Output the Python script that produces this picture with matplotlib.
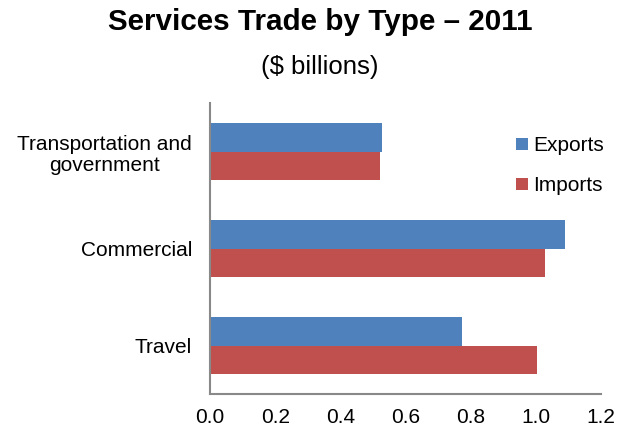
import matplotlib
matplotlib.use("Agg")
import matplotlib.pyplot as plt
import numpy as np

plt.rcParams['font.family'] = ['Liberation Sans', 'DejaVu Sans']

categories = ["Travel", "Commercial", "Transportation and\ngovernment"]
exports = [0.773, 1.090, 0.527]
imports = [1.003, 1.027, 0.520]
xticks = [0.0, 0.2, 0.4, 0.6, 0.8, 1.0, 1.2]

fig = plt.figure(figsize=(6.25, 4.33), dpi=100)
ax = fig.add_axes([0.336, 0.090, 0.626, 0.672])

y = np.arange(len(categories))
h = 0.29
ax.barh(y - h/2, imports, height=h, color="#C0504D", label="Imports")
ax.barh(y + h/2, exports, height=h, color="#4F81BD", label="Exports")

ax.set_xlim(0, 1.2)
ax.set_ylim(-0.5, 2.5)
ax.set_xticks(xticks)
ax.set_xticklabels([f"{v:.1f}" for v in xticks], fontsize=15)
ax.set_yticks(y)
ax.set_yticklabels(categories, fontsize=15, multialignment="center",
                   linespacing=1.15)
ax.tick_params(axis="both", length=0)
ax.tick_params(axis="y", pad=13)
ax.tick_params(axis="x", pad=10)
for s in ["top", "right"]:
    ax.spines[s].set_visible(False)
for s in ["left", "bottom"]:
    ax.spines[s].set_color("#898989")
    ax.spines[s].set_linewidth(1.5)

handles, labels = ax.get_legend_handles_labels()
leg = ax.legend(handles[::-1], labels[::-1], loc="upper left",
                bbox_to_anchor=(0.735, 0.95), frameon=False, fontsize=15,
                handlelength=0.55, handleheight=0.55, handletextpad=0.25,
                labelspacing=1.0)

fig.text(0.513, 0.949, "Services Trade by Type – 2011", ha="center", va="center",
         fontsize=21.3, fontweight="bold")
fig.text(0.512, 0.845, "($ billions)", ha="center", va="center", fontsize=18.5)

fig.savefig("out.png", dpi=100)
